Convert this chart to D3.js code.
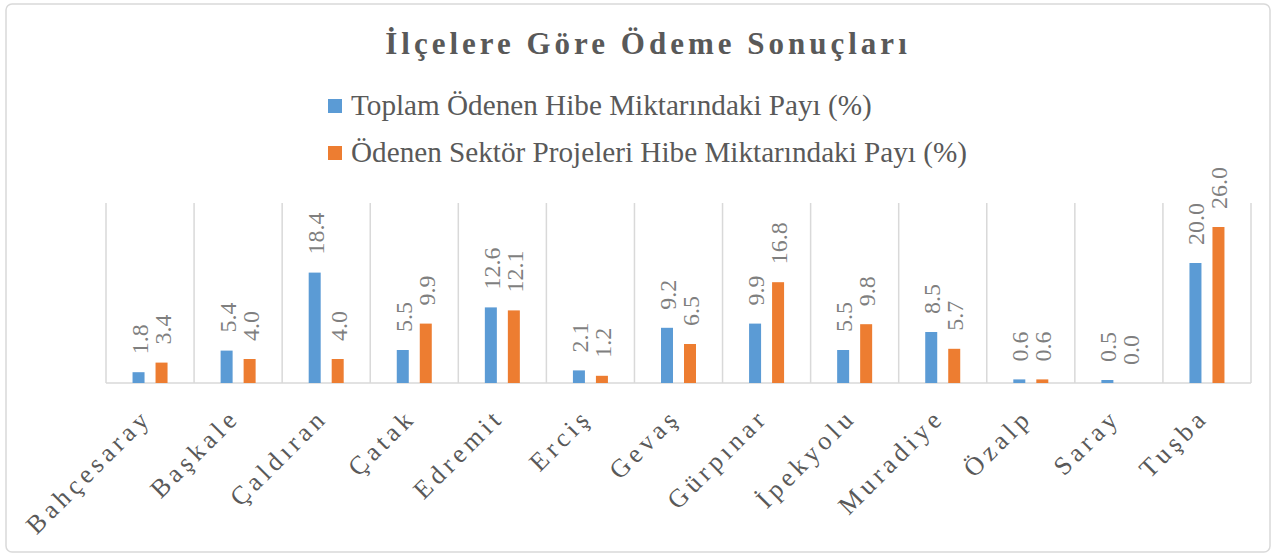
<!DOCTYPE html>
<html>
<head>
<meta charset="utf-8">
<script src="https://cdn.jsdelivr.net/npm/d3@7"></script>
<style>
  body { margin: 0; background: #fff; }
  text { font-family: "Liberation Serif", "Times New Roman", serif; }
</style>
</head>
<body>
<div id="chart"></div>
<script>
// district names
const districts = ["Bahçesaray", "Başkale", "Çaldıran", "Çatak", "Edremit", "Erciş", "Gevaş",
    "Gürpınar", "İpekyolu", "Muradiye", "Özalp", "Saray", "Tuşba"];
// Toplam Ödenen Hibe Miktarındaki Payı (%)
const totalShare = [1.8, 5.4, 18.4, 5.5, 12.6, 2.1, 9.2, 9.9, 5.5, 8.5, 0.6, 0.5, 20.0];
// Ödenen Sektör Projeleri Hibe Miktarındaki Payı (%)
const sectorShare = [3.4, 4.0, 4.0, 9.9, 12.1, 1.2, 6.5, 16.8, 9.8, 5.7, 0.6, 0.0, 26.0];
const seriesNames = ["Toplam Ödenen Hibe Miktarındaki Payı (%)", "Ödenen Sektör Projeleri Hibe Miktarındaki Payı (%)"];
const seriesColors = ["#5b9bd5", "#ed7d31"];

const width = 1276, height = 558;
const plot = { left: 106, right: 1251, top: 203, bottom: 383 };

const svg = d3.select("#chart").append("svg")
    .attr("width", width)
    .attr("height", height);

// outer frame
svg.append("rect")
    .attr("x", 6).attr("y", 4)
    .attr("width", 1264).attr("height", 548)
    .attr("rx", 6)
    .attr("fill", "#fff")
    .attr("stroke", "#d9d9d9")
    .attr("stroke-width", 1.5);

// title
svg.append("text")
    .attr("x", 648).attr("y", 54)
    .attr("text-anchor", "middle")
    .attr("fill", "#595959")
    .style("font-size", "31px")
    .style("font-weight", "bold")
    .style("letter-spacing", "4px")
    .text("İlçelere Göre Ödeme Sonuçları");

// legend
const legend = svg.selectAll(".legendItem")
    .data(seriesNames)
    .enter()
    .append("g")
    .attr("class", "legendItem")
    .attr("transform", (d, i) => `translate(328, ${99 + i * 47})`);
legend.append("rect")
    .attr("width", 14).attr("height", 14)
    .attr("fill", (d, i) => seriesColors[i]);
legend.append("text")
    .attr("x", 23).attr("y", 16)
    .attr("fill", "#595959")
    .style("font-size", "29.2px")
    .text(d => d);

const x = d3.scaleBand()
    .domain(districts)
    .range([plot.left, plot.right]);
const y = d3.scaleLinear()
    .domain([0, 30])
    .range([plot.bottom, plot.top]);

// category separators
const bounds = districts.map(d => x(d)).concat([plot.right]);
svg.selectAll(".sep")
    .data(bounds)
    .enter()
    .append("line")
    .attr("class", "sep")
    .attr("x1", d => d).attr("x2", d => d)
    .attr("y1", plot.top).attr("y2", plot.bottom)
    .attr("stroke", "#d9d9d9")
    .attr("stroke-width", 1.5);

svg.append("line")
    .attr("x1", plot.left).attr("x2", plot.right)
    .attr("y1", plot.bottom).attr("y2", plot.bottom)
    .attr("stroke", "#d9d9d9")
    .attr("stroke-width", 1.5);

// bars
const barW = 12, gap = 11;
const data = [];
districts.forEach((d, i) => {
    data.push({ name: d, s: 0, value: totalShare[i] });
    data.push({ name: d, s: 1, value: sectorShare[i] });
});
const barX = d => x(d.name) + x.bandwidth() / 2 + (d.s === 0 ? -(gap / 2 + barW) : gap / 2);

svg.selectAll(".mybar")
    .data(data)
    .enter()
    .append("rect")
    .attr("class", "mybar")
    .attr("x", barX)
    .attr("y", d => y(d.value))
    .attr("width", barW)
    .attr("height", d => y(0) - y(d.value))
    .attr("fill", d => seriesColors[d.s]);

// value labels, rotated
svg.selectAll(".valueLabel")
    .data(data)
    .enter()
    .append("text")
    .attr("class", "valueLabel")
    .attr("transform", d => `translate(${barX(d) + barW / 2 + 9}, ${y(d.value) - 18}) rotate(-90)`)
    .attr("fill", "#7f7f7f")
    .style("font-size", "24px")
    .text(d => d.value.toFixed(1));

// category labels
svg.selectAll(".catLabel")
    .data(districts)
    .enter()
    .append("text")
    .attr("class", "catLabel")
    .attr("transform", d => `translate(${x(d) + x.bandwidth() / 2 + 3}, 419) rotate(-45)`)
    .attr("text-anchor", "end")
    .attr("fill", "#595959")
    .style("font-size", "26px")
    .style("letter-spacing", "4.5px")
    .text(d => d);
</script>
</body>
</html>
